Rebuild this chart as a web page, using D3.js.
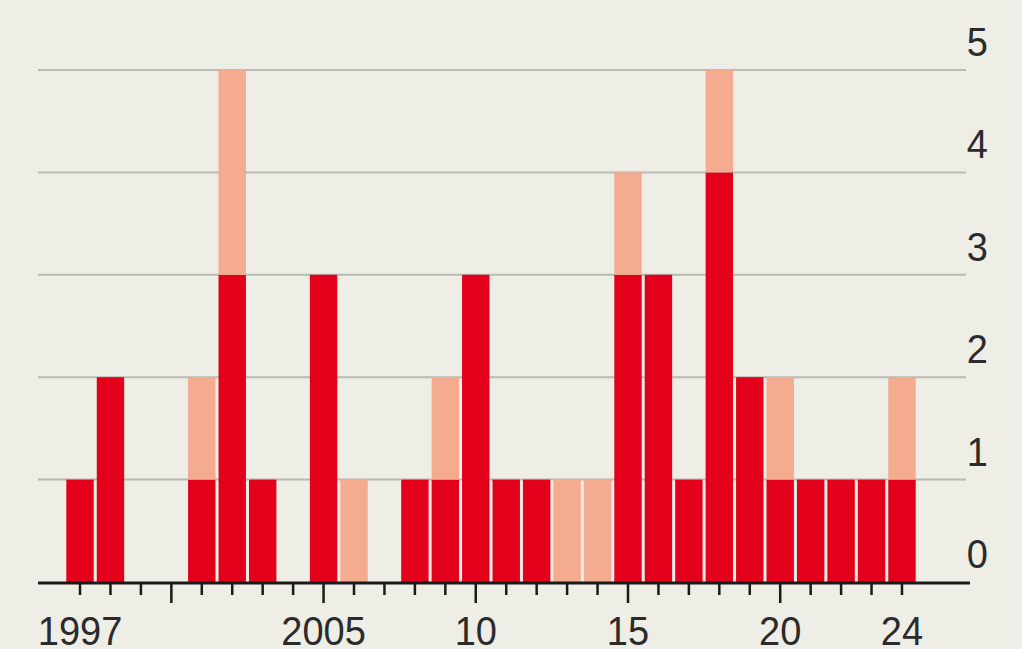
<!DOCTYPE html>
<html>
<head>
<meta charset="utf-8">
<script src="https://cdn.jsdelivr.net/npm/d3@7"></script>
<style>
  html, body { margin: 0; padding: 0; background: #eeede6; }
  svg text { font-family: "Liberation Sans", Arial, sans-serif; fill: #2b2b2b; }
</style>
</head>
<body>
<svg id="chart" width="1022" height="649"></svg>
<script>
const years = d3.range(1997, 2025)
// dark segment per year (0 where nothing)
const darkValues = [1, 2, 0, 0, 1, 3, 1, 0, 3, 0, 0, 1, 1, 3, 1, 1, 0, 0, 3, 3, 1, 4, 2, 1, 1, 1, 1, 1]
// light segment stacked on top
const lightValues = [0, 0, 0, 0, 1, 2, 0, 0, 0, 1, 0, 0, 1, 0, 0, 0, 1, 1, 1, 0, 0, 1, 0, 1, 0, 0, 0, 1]
const yTicks = [0, 1, 2, 3, 4, 5]
const xLabels = {1997: '1997', 2005: '2005', 2010: '10', 2015: '15', 2020: '20', 2024: '24'}
const majorYears = [2000, 2005, 2010, 2015, 2020]

const svg = d3.select('#chart')
const darkRed = '#e2001a'
const lightRed = '#f4ab90'

const x = d3.scaleBand().domain(years).range([64.8, 917.2]).paddingInner(0.1).paddingOuter(0.05)
const y = d3.scaleLinear().domain([0, 5]).range([582, 70])

// gridlines
svg.append('g')
  .selectAll('line')
  .data(yTicks.filter(d => d > 0))
  .join('line')
  .attr('x1', 38).attr('x2', 966)
  .attr('y1', d => y(d)).attr('y2', d => y(d))
  .attr('stroke', '#bab9b3')
  .attr('stroke-width', 2)

// y labels (slightly tall type, as in the print original)
svg.append('g')
  .selectAll('text')
  .data(yTicks)
  .join('text')
  .attr('transform', d => `translate(988, ${y(d) - 14}) scale(1, 1.08)`)
  .attr('text-anchor', 'end')
  .attr('font-size', 38)
  .text(d => d)

const data = years.map((yr, i) => ({year: yr, dark: darkValues[i], light: lightValues[i]}))

// dark bars
svg.append('g')
  .selectAll('rect')
  .data(data.filter(d => d.dark > 0))
  .join('rect')
  .attr('x', d => x(d.year))
  .attr('width', x.bandwidth())
  .attr('y', d => y(d.dark))
  .attr('height', d => y(0) - y(d.dark))
  .attr('fill', darkRed)

// light bars
svg.append('g')
  .selectAll('rect')
  .data(data.filter(d => d.light > 0))
  .join('rect')
  .attr('x', d => x(d.year))
  .attr('width', x.bandwidth())
  .attr('y', d => y(d.dark + d.light))
  .attr('height', d => y(d.dark) - y(d.dark + d.light))
  .attr('fill', lightRed)

// baseline
svg.append('line')
  .attr('x1', 38).attr('x2', 970)
  .attr('y1', y(0) + 1).attr('y2', y(0) + 1)
  .attr('stroke', '#1a1a1a')
  .attr('stroke-width', 3)

// year ticks
const cx = d => x(d) + x.bandwidth() / 2
svg.append('g')
  .selectAll('line')
  .data(years)
  .join('line')
  .attr('x1', cx).attr('x2', cx)
  .attr('y1', y(0) + 2)
  .attr('y2', d => majorYears.includes(d) ? y(0) + 21 : y(0) + 13)
  .attr('stroke', '#1a1a1a')
  .attr('stroke-width', 2.5)

// x labels
svg.append('g')
  .selectAll('text')
  .data(Object.keys(xLabels).map(Number))
  .join('text')
  .attr('transform', d => `translate(${cx(d)}, 645) scale(1, 1.08)`)
  .attr('text-anchor', 'middle')
  .attr('font-size', 38)
  .text(d => xLabels[d])
</script>
</body>
</html>
